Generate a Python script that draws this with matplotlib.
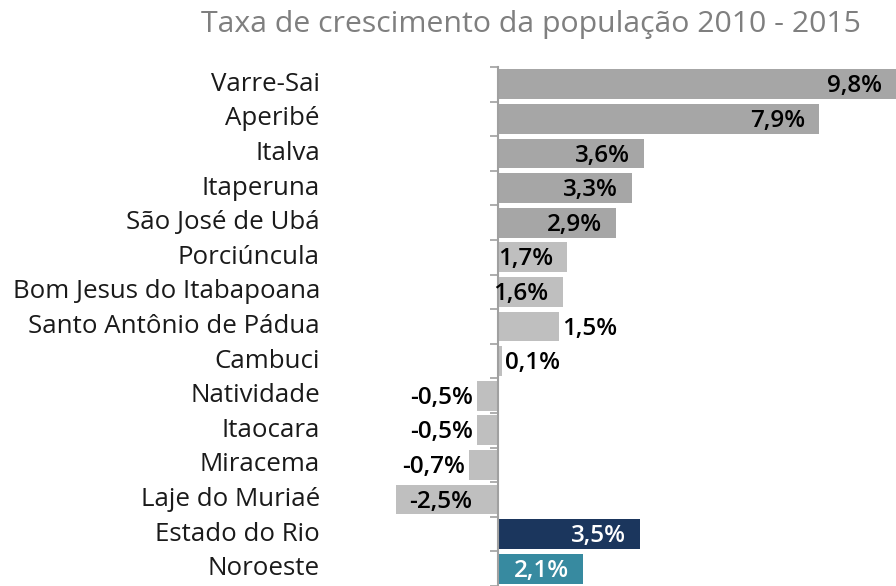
import matplotlib
matplotlib.use("Agg")
import matplotlib.pyplot as plt
from matplotlib.transforms import offset_copy

plt.rcParams['font.family'] = ['Open Sans', 'DejaVu Sans']

# dados
municipios = ["Varre-Sai", "Aperibé", "Italva", "Itaperuna", "São José de Ubá",
              "Porciúncula", "Bom Jesus do Itabapoana", "Santo Antônio de Pádua",
              "Cambuci", "Natividade", "Itaocara", "Miracema", "Laje do Muriaé",
              "Estado do Rio", "Noroeste"]
taxa = [9.8, 7.9, 3.6, 3.3, 2.9, 1.7, 1.6, 1.5, 0.1, -0.5, -0.5, -0.7, -2.5, 3.5, 2.1]
rotulos = ["9,8%", "7,9%", "3,6%", "3,3%", "2,9%", "1,7%", "1,6%", "1,5%", "0,1%",
           "-0,5%", "-0,5%", "-0,7%", "-2,5%", "3,5%", "2,1%"]

cores = ["#a6a6a6"] * 5 + ["#bfbfbf"] * 8 + ["#1b365d", "#378aa0"]
# posicao do rotulo: dentro (fim da barra) ou fora
dentro = [True] * 7 + [False, False, False, False, False, True, True, True]
cor_texto = ["black"] * 13 + ["white", "white"]

fig = plt.figure(figsize=(8.96, 5.86), dpi=100)
ax = fig.add_axes([392/896, 0.0, 504/896, 519/586])

y = list(range(len(municipios)))
ax.barh(y, taxa, height=0.86, color=cores)
ax.set_xlim(-2.6, 9.8)
ax.set_ylim(14.5, -0.5)

# eixo vertical no zero
for s in ["top", "right", "bottom"]:
    ax.spines[s].set_visible(False)
ax.spines["left"].set_position(("data", 0))
ax.spines["left"].set_color("#a0a0a0")
ax.spines["left"].set_linewidth(1.5)
ax.set_xticks([])
ax.set_yticks([])
ax.set_yticks([i + 0.5 for i in range(-1, 15)], minor=True)
ax.tick_params(axis="y", which="minor", length=6, width=1.2, color="#a0a0a0",
               labelleft=False, direction="out")

# nomes
for i, nome in enumerate(municipios):
    ax.text(-0.143, i, nome, transform=ax.get_yaxis_transform(), ha="right",
            va="center", fontsize=18.6, color="#1a1a1a")

# valores
for i, (v, r) in enumerate(zip(taxa, rotulos)):
    if v >= 0:
        if dentro[i]:
            dx, ha = -14, "right"
        else:
            dx, ha = 3, "left"
    else:
        if dentro[i]:
            dx, ha = 13, "left"
        else:
            dx, ha = -4, "right"
    tr = offset_copy(ax.transData, fig=fig, x=dx * 0.72, y=-1.5, units="points")
    ax.text(v, i, r, transform=tr, ha=ha, va="center", fontsize=17.5,
            fontweight="semibold", color=cor_texto[i])

fig.text(0.5926, 0.958, "Taxa de crescimento da população 2010 - 2015",
         ha="center", va="center", fontsize=21.8, color="#7f7f7f")

fig.savefig("out.png", dpi=100)
